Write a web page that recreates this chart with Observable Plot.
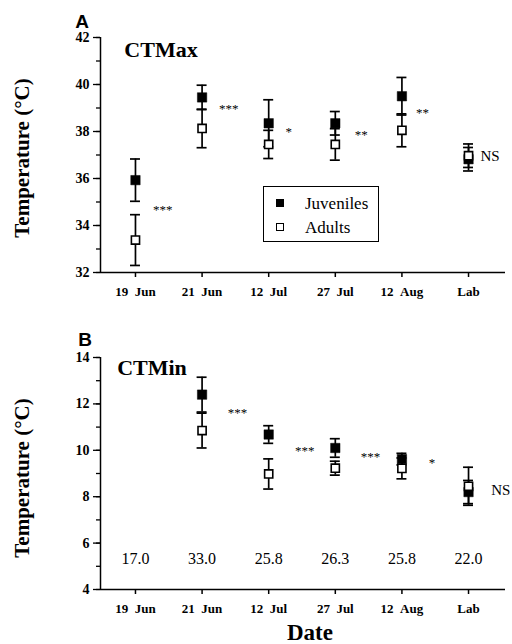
<!DOCTYPE html>
<html>
<head>
<meta charset="utf-8">
<script src="https://cdn.jsdelivr.net/npm/d3@7"></script>
<script src="https://cdn.jsdelivr.net/npm/@observablehq/plot@0.6"></script>
<style>
  body { margin: 0; background: white; }
  #wrap { position: relative; width: 512px; height: 644px; background: white; overflow: hidden; }
  #wrap svg { display: block; }
  #wrap svg text { font-family: "Liberation Serif", "Times New Roman", serif !important; }
  .lbl { position: absolute; white-space: nowrap; line-height: 1; transform: translate(-50%, -50%); color: black; }
  .serif { font-family: "Liberation Serif", "Times New Roman", serif; }
  .sans { font-family: "Liberation Sans", Arial, sans-serif; }
</style>
</head>
<body>
<div id="wrap"></div>
<script>
// ---- data ----
const dates = ["19 Jun", "21 Jun", "12 Jul", "27 Jul", "12 Aug", "Lab"];

// Panel A: CTMax
const maxJuv    = [35.93, 39.45, 38.35, 38.35, 39.50, 36.82];
const maxJuvErr = [0.90, 0.52, 1.00, 0.50, 0.80, 0.50];
const maxAdu    = [33.38, 38.13, 37.45, 37.45, 38.05, 36.97];
const maxAduErr = [1.08, 0.82, 0.60, 0.67, 0.70, 0.50];
const maxSig    = ["***", "***", "*", "**", "**", "NS"];
const maxSigX   = [0.41, 1.40, 2.30, 3.39, 4.31, 5.18];
const maxSigY   = [34.80, 39.10, 38.12, 37.98, 38.94, 36.96];

// Panel B: CTMin
const minJuv    = [null, 12.40, 10.68, 10.10, 9.62, 8.20];
const minJuvErr = [null, 0.75, 0.38, 0.40, 0.25, 0.50];
const minAdu    = [null, 10.85, 8.98, 9.23, 9.22, 8.45];
const minAduErr = [null, 0.75, 0.65, 0.30, 0.45, 0.82];
const minSig    = [null, "***", "***", "***", "*", "NS"];
const minSigX   = [null, 1.53, 2.54, 3.53, 4.45, 5.34];
const minSigY   = [null, 11.76, 10.12, 9.86, 9.60, 8.30];
const nLabels   = ["17.0", "33.0", "25.8", "26.3", "25.8", "22.0"];

const maxTicks = [32, 34, 36, 38, 40, 42];
const minTicks = [4, 6, 8, 10, 12, 14];

// ---- drawing ----
const X0 = -0.525, X1 = 5.555, CAP = 0.075;
const SERIF = "Liberation Serif, Times New Roman, serif";

function panel({juv, juvErr, adu, aduErr, sig, sigX, sigY, yDomain, ticks, height, marginTop, marginBottom, nText}) {
  const rows = dates.map((d, i) => ({i, d, juv: juv[i], je: juvErr[i], adu: adu[i], ae: aduErr[i]}))
    .filter(r => r.juv != null);
  const bars = rows.flatMap(r => [
    {i: r.i, lo: r.juv - r.je, hi: r.juv + r.je},
    {i: r.i, lo: r.adu - r.ae, hi: r.adu + r.ae}
  ]);
  const caps = bars.flatMap(b => [{i: b.i, y: b.lo}, {i: b.i, y: b.hi}]);
  const sigRows = sig.map((s, i) => ({s, x: sigX[i], y: sigY[i]})).filter(r => r.s != null);
  const stars = sigRows.filter(r => r.s !== "NS");
  const ns = sigRows.filter(r => r.s === "NS");
  const minor = d3.range(yDomain[0], yDomain[1] + 0.001, 1);
  const marks = [
    Plot.ruleX([X0], {y1: yDomain[0], y2: yDomain[1], stroke: "black", strokeWidth: 1.5}),
    Plot.ruleY([yDomain[0]], {x1: X0, x2: X1, stroke: "black", strokeWidth: 1.5}),
    Plot.axisY({ticks: minor, tickSize: 4, tickFormat: () => "", strokeWidth: 1.3}),
    Plot.axisY({ticks, tickSize: 7, tickPadding: 4, fontSize: 14, fontWeight: "bold", fontFamily: SERIF, strokeWidth: 1.3}),
    Plot.axisX({ticks: d3.range(dates.length), tickFormat: i => dates[i].replace(" ", "\u2002"),
      tickSize: 5, tickPadding: 9, fontSize: 13, fontWeight: "bold", fontFamily: SERIF, strokeWidth: 1.5}),
    Plot.ruleX(bars, {x: "i", y1: "lo", y2: "hi", stroke: "black", strokeWidth: 1.7}),
    Plot.ruleY(caps, {y: "y", x1: d => d.i - CAP, x2: d => d.i + CAP, stroke: "black", strokeWidth: 1.7}),
    Plot.dot(rows, {x: "i", y: "juv", symbol: "square", r: 5.3, fill: "black", stroke: "black", strokeWidth: 0.5}),
    Plot.dot(rows, {x: "i", y: "adu", symbol: "square", r: 4.6, fill: "white", stroke: "black", strokeWidth: 1.6}),
    Plot.text(stars, {x: "x", y: "y", text: "s", fontSize: 13, dy: 3, fill: "black", fontFamily: SERIF}),
    Plot.text(ns, {x: "x", y: "y", text: "s", fontSize: 15, textAnchor: "start", fill: "black", fontFamily: SERIF})
  ];
  if (nText) {
    marks.push(Plot.text(nText, {x: (d, i) => i, text: d => d, frameAnchor: "bottom", dy: -26, fontSize: 16, fill: "black", fontFamily: SERIF}));
  }
  return Plot.plot({
    width: 512, height, marginLeft: 100, marginRight: 7, marginTop, marginBottom,
    x: {type: "linear", domain: [X0, X1], axis: null},
    y: {domain: yDomain, axis: null},
    style: {fontFamily: SERIF, background: "white", color: "black"},
    marks
  });
}

const wrap = document.getElementById("wrap");
wrap.append(panel({juv: maxJuv, juvErr: maxJuvErr, adu: maxAdu, aduErr: maxAduErr,
  sig: maxSig, sigX: maxSigX, sigY: maxSigY, yDomain: [32, 42], ticks: maxTicks,
  height: 320, marginTop: 37, marginBottom: 48}));
wrap.append(panel({juv: minJuv, juvErr: minJuvErr, adu: minAdu, aduErr: minAduErr,
  sig: minSig, sigX: minSigX, sigY: minSigY, yDomain: [4, 14], ticks: minTicks,
  height: 324, marginTop: 37, marginBottom: 55, nText: nLabels}));

function label(text, cx, cy, cls, style) {
  const s = document.createElement("div");
  s.className = "lbl " + cls;
  s.textContent = text;
  s.style.left = cx + "px";
  s.style.top = cy + "px";
  Object.assign(s.style, style || {});
  wrap.append(s);
  return s;
}
label("A", 82, 21, "sans", {fontSize: "19px", fontWeight: "bold"});
label("CTMax", 161, 50, "serif", {fontSize: "22px", fontWeight: "bold"});
label("Temperature (°C)", 22, 158, "serif", {fontSize: "21px", fontWeight: "bold", transform: "translate(-50%,-50%) rotate(-90deg)"});
label("B", 85, 339, "sans", {fontSize: "19px", fontWeight: "bold"});
label("CTMin", 152, 368, "serif", {fontSize: "22px", fontWeight: "bold"});
label("Temperature (°C)", 22, 478, "serif", {fontSize: "21px", fontWeight: "bold", transform: "translate(-50%,-50%) rotate(-90deg)"});
label("Date", 310, 632, "serif", {fontSize: "23px", fontWeight: "bold"});

// legend
const lg = document.createElement("div");
Object.assign(lg.style, {position: "absolute", left: "263px", top: "186px", width: "114px", height: "54px",
  border: "1.5px solid black", background: "white", boxSizing: "content-box"});
wrap.append(lg);
const legendItems = [["Juveniles", "black", 203], ["Adults", "white", 227]];
for (const [name, fill, cy] of legendItems) {
  const sq = document.createElement("div");
  Object.assign(sq.style, {position: "absolute", left: "276px", top: (cy - 4.5) + "px", width: "6px", height: "6px",
    background: fill, border: "1.5px solid black"});
  wrap.append(sq);
  label(name, 305, cy, "serif", {fontSize: "17px", transform: "translate(0,-50%)"});
}
</script>
</body>
</html>
